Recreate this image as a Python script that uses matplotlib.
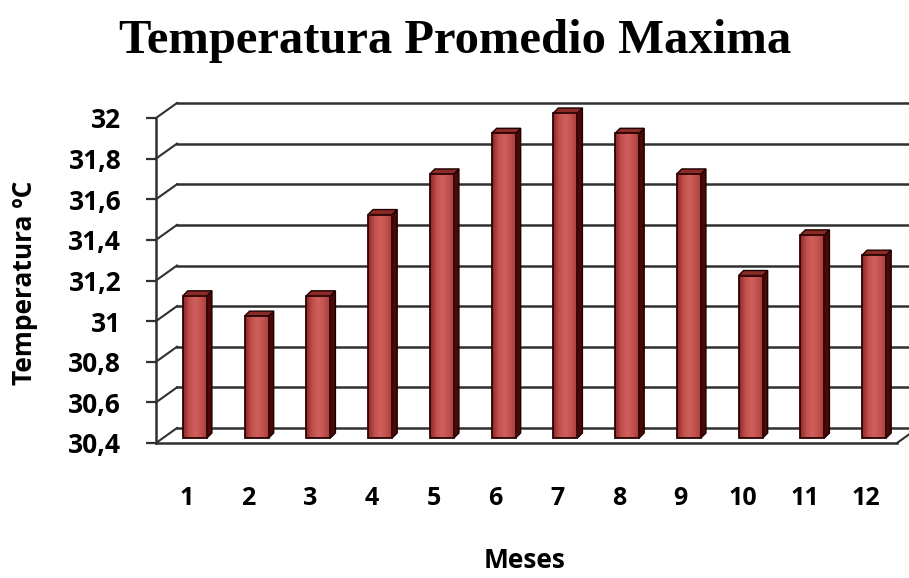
import numpy as np
import matplotlib.pyplot as plt
from matplotlib.patches import Rectangle, Polygon
from matplotlib.colors import LinearSegmentedColormap

meses = [1, 2, 3, 4, 5, 6, 7, 8, 9, 10, 11, 12]
temperatura = [31.1, 31.0, 31.1, 31.5, 31.7, 31.9, 32.0, 31.9, 31.7, 31.2, 31.4, 31.3]
y_ticks = [30.4, 30.6, 30.8, 31.0, 31.2, 31.4, 31.6, 31.8, 32.0]
y_labels = ["30,4", "30,6", "30,8", "31", "31,2", "31,4", "31,6", "31,8", "32"]

W, H = 909, 578
fig = plt.figure(figsize=(W / 100, H / 100), dpi=100)

# front plane of the fake 3D box, in pixels
left, right, bottom, top = 156, 897, 443, 118
ax = fig.add_axes([left / W, 1 - bottom / H, (right - left) / W, (bottom - top) / H])
sx = (12.5 - 0.5) / (right - left)          # data units per pixel
sy = (y_ticks[-1] - y_ticks[0]) / (bottom - top)

GRID = "#303030"
back_dx, back_dy = 21 * sx, 15 * sy     # back wall offset
bar_dx, bar_dy = 8 * sx, 5 * sy         # bars sit mid-depth
side_dx, side_dy = 5 * sx, 5 * sy       # bar thickness
bw = 0.39

# back wall gridlines + left wall diagonals
for v in y_ticks:
    ax.plot([0.5 + back_dx, 12.5 + back_dx], [v + back_dy] * 2,
            color=GRID, lw=1.8, clip_on=False, zorder=1)
    ax.plot([0.5, 0.5 + back_dx], [v, v + back_dy],
            color=GRID, lw=1.5, clip_on=False, zorder=1)
# right end of floor
ax.plot([12.5, 12.5 + back_dx], [y_ticks[0], y_ticks[0] + back_dy],
        color=GRID, lw=1.5, clip_on=False, zorder=1)

face_cmap = LinearSegmentedColormap.from_list(
    "face", ["#8e2624", "#c0504d", "#cf605c", "#c0504d", "#a33a37"])
grad = np.linspace(0, 1, 64).reshape(1, -1)

# bars with side and top faces
for m, v in zip(meses, temperatura):
    x0 = m - bw / 2 + bar_dx
    y0 = y_ticks[0] + bar_dy
    y1 = v + bar_dy
    side = Polygon([(x0 + bw, y0), (x0 + bw + side_dx, y0 + side_dy),
                    (x0 + bw + side_dx, y1 + side_dy), (x0 + bw, y1)],
                   closed=True, facecolor="#4a0807", edgecolor="#1e0000",
                   lw=1.0, zorder=3, clip_on=False)
    topf = Polygon([(x0, y1), (x0 + bw, y1), (x0 + bw + side_dx, y1 + side_dy),
                    (x0 + side_dx, y1 + side_dy)],
                   closed=True, facecolor="#8a2b28", edgecolor="#1e0000",
                   lw=1.0, zorder=3, clip_on=False)
    ax.add_patch(side)
    ax.add_patch(topf)
    ax.imshow(grad, extent=[x0, x0 + bw, y0, y1], aspect="auto",
              cmap=face_cmap, zorder=4, clip_on=False, interpolation="bilinear")
    ax.add_patch(Rectangle((x0, y0), bw, y1 - y0, facecolor="none",
                           edgecolor="#2a0202", lw=1.3, zorder=5, clip_on=False))

ax.set_xlim(0.5, 12.5)
ax.set_ylim(y_ticks[0], y_ticks[-1])

for s in ["top", "right"]:
    ax.spines[s].set_visible(False)
for s in ["left", "bottom"]:
    ax.spines[s].set_color(GRID)
    ax.spines[s].set_linewidth(1.8)
ax.set_facecolor("none")

ax.set_yticks(y_ticks)
ax.set_yticklabels(y_labels, fontsize=19, fontweight="bold", family="Open Sans")
ax.tick_params(axis="y", length=7, width=1.6, color=GRID, pad=18)
ax.set_xticks(meses)
ax.set_xticklabels([str(m) for m in meses], fontsize=18, fontweight="bold", family="Open Sans")
ax.tick_params(axis="x", length=0, pad=31)

fig.text(455 / W, 1 - 53 / H, "Temperatura Promedio Maxima", ha="center", va="baseline",
         fontsize=35, fontweight="bold", family="Liberation Serif")
fig.text(525 / W, 1 - 561 / H, "Meses", ha="center", va="center",
         fontsize=19, fontweight="bold", family="Open Sans")
fig.text(25 / W, 1 - 283 / H, "Temperatura ºC", ha="center", va="center",
         rotation=90, fontsize=19, fontweight="bold", family="Open Sans")

fig.savefig("out.png", dpi=100)
